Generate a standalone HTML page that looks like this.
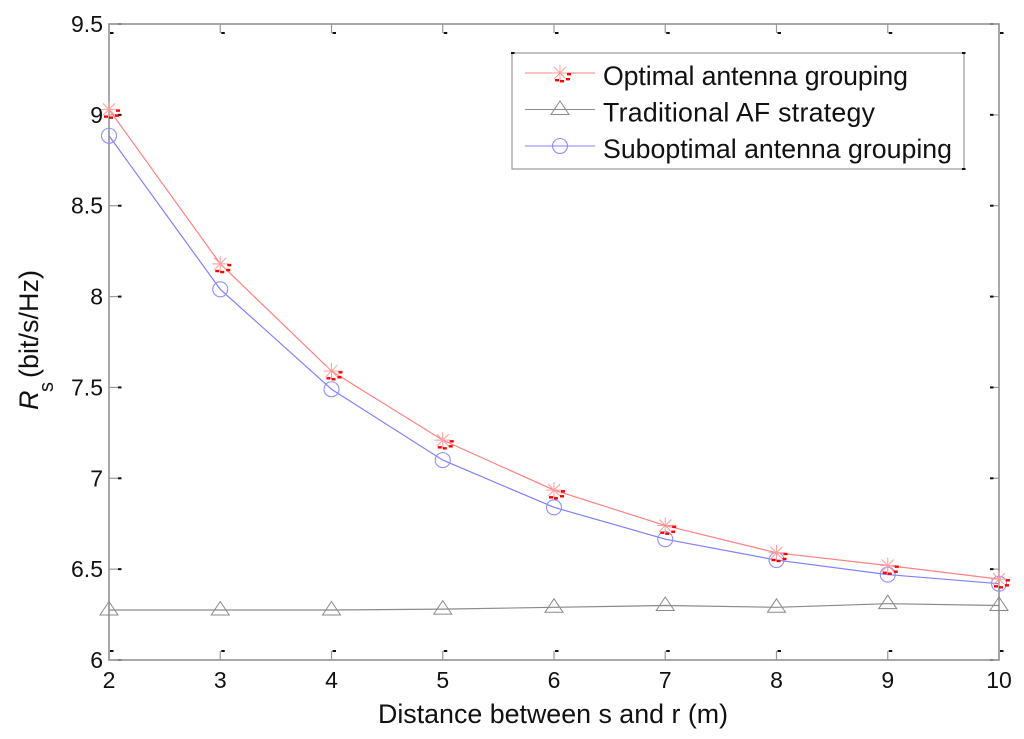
<!DOCTYPE html>
<html lang="en">
<head>
<meta charset="utf-8">
<title>Rs vs distance chart</title>
<style>
html,body{margin:0;padding:0;background:#fff;width:1024px;height:739px;overflow:hidden}
svg{display:block}
text{font-family:"Liberation Sans",sans-serif;fill:#111}
</style>
</head>
<body>
<svg id="chart" width="1024" height="739" viewBox="0 0 1024 739" xmlns="http://www.w3.org/2000/svg">
  <rect x="0" y="0" width="1024" height="739" fill="#fff"/>
  <g id="ticks"></g>
  <rect x="109" y="24" width="890" height="636" fill="none" stroke="#999" stroke-width="1.7"/>
  <g id="tick-labels"></g>
  <g id="series"></g>
  <text x="378" y="723" font-size="26.8">Distance between s and r (m)</text>
  <g transform="translate(38,410) rotate(-90)">
    <text x="0" y="0" font-size="27" font-style="italic">R</text>
    <text x="18" y="15" font-size="20">s</text>
    <text x="32" y="0" font-size="27">(bit/s/Hz)</text>
  </g>
  <g id="legend">
    <rect x="512" y="53" width="452" height="116" fill="#fff" stroke="#999" stroke-width="1.2"/>
  </g>
</svg>
<script>
const categories = [2, 3, 4, 5, 6, 7, 8, 9, 10];
const optimalValues = [9.03, 8.18, 7.59, 7.21, 6.935, 6.74, 6.59, 6.52, 6.445];
const traditionalValues = [6.275, 6.275, 6.275, 6.28, 6.29, 6.30, 6.29, 6.31, 6.30];
const suboptimalValues = [8.885, 8.04, 7.49, 7.10, 6.84, 6.665, 6.55, 6.47, 6.42];
const xTickValues = [2, 3, 4, 5, 6, 7, 8, 9, 10];
const yTickValues = [6, 6.5, 7, 7.5, 8, 8.5, 9, 9.5];
const yTickLabels = ['6', '6.5', '7', '7.5', '8', '8.5', '9', '9.5'];
const legendLabels = ['Optimal antenna grouping', 'Traditional AF strategy', 'Suboptimal antenna grouping'];

const NS = 'http://www.w3.org/2000/svg';
const PLOT = {left: 109, right: 999, top: 24, bottom: 660, xMin: 2, xMax: 10, yMin: 6, yMax: 9.5};
function xScale(v) { return PLOT.left + (v - PLOT.xMin) / (PLOT.xMax - PLOT.xMin) * (PLOT.right - PLOT.left); }
function yScale(v) { return PLOT.bottom - (v - PLOT.yMin) / (PLOT.yMax - PLOT.yMin) * (PLOT.bottom - PLOT.top); }
function make(tag, attrs, parent) {
  const el = document.createElementNS(NS, tag);
  for (const k in attrs) el.setAttribute(k, attrs[k]);
  parent.appendChild(el);
  return el;
}
function seg(parent, x1, y1, x2, y2, color, w) {
  return make('line', {x1: x1, y1: y1, x2: x2, y2: y2, stroke: color, 'stroke-width': w}, parent);
}
function dash(parent, x, y, w, h, color) {
  return make('rect', {x: x, y: y, width: w, height: h, fill: color}, parent);
}

const ticksG = document.getElementById('ticks');
const labelsG = document.getElementById('tick-labels');
const seriesG = document.getElementById('series');
const legendG = document.getElementById('legend');

xTickValues.forEach(function (v) {
  const x = xScale(v);
  const t = make('g', {}, ticksG);
  
  
  seg(t, x, PLOT.top, x, PLOT.top + 9, '#999', 1.2);
  seg(t, x, PLOT.bottom, x, PLOT.bottom - 9, '#999', 1.2);
  dash(t, x + 1, PLOT.top + 8, 3.5, 2, '#111');
  dash(t, x + 1, PLOT.bottom - 10, 3.5, 2, '#111');
  const lab = make('text', {x: x, y: 688, 'font-size': 23, 'text-anchor': 'middle'}, labelsG);
  
  
  lab.textContent = String(v);
});

yTickValues.forEach(function (v, i) {
  const y = yScale(v);
  const t = make('g', {}, ticksG);
  
  
  seg(t, PLOT.left, y, PLOT.left + 9, y, '#999', 1.2);
  seg(t, PLOT.right, y, PLOT.right - 9, y, '#999', 1.2);
  dash(t, PLOT.left + 9, y - 1, 3.5, 2, '#111');
  dash(t, PLOT.right - 9, y - 1, 3.5, 2, '#111');
  const lab = make('text', {x: 103, y: y + 8, 'font-size': 23, 'text-anchor': 'end'}, labelsG);
  
  
  lab.textContent = yTickLabels[i];
});

function starMarker(parent, cx, cy) {
  const r = 8;
  const c = '#ff9c9c';
  seg(parent, cx - r, cy, cx + r, cy, c, 1);
  seg(parent, cx, cy - r, cx, cy + r, c, 1);
  seg(parent, cx - 6, cy - 6, cx + 6, cy + 6, c, 1);
  seg(parent, cx - 6, cy + 6, cx + 6, cy - 6, c, 1);
  dash(parent, cx + 7, cy, 4, 2.4, '#f00');
  dash(parent, cx - 5, cy + 6, 4, 2.4, '#f00');
  dash(parent, cx, cy + 7, 4, 2.4, '#f00');
  dash(parent, cx + 6, cy + 5, 4, 2.4, '#f00');
}
function triangleMarker(parent, cx, cy) {
  const pts = [[cx, cy - 8.5], [cx + 9, cy + 5], [cx - 9, cy + 5]].map(function (p) { return p.join(','); }).join(' ');
  make('polygon', {points: pts, fill: 'none', stroke: '#8a8a8a', 'stroke-width': 1}, parent);
}
function circleMarker(parent, cx, cy) {
  make('circle', {cx: cx, cy: cy, r: 7.5, fill: 'none', stroke: '#8f8fff', 'stroke-width': 1.1}, parent);
}
function drawSeries(name, values, color, marker) {
  const g = make('g', {}, seriesG);
  
  
  const pts = values.map(function (v, i) { return xScale(categories[i]) + ',' + yScale(v); }).join(' ');
  make('polyline', {points: pts, fill: 'none', stroke: color, 'stroke-width': 1.2}, g);
  values.forEach(function (v, i) {
    marker(g, xScale(categories[i]), yScale(v));
  });
}
drawSeries('series-traditional-af', traditionalValues, '#8a8a8a', triangleMarker);
drawSeries('series-suboptimal-grouping', suboptimalValues, '#8080ff', circleMarker);
drawSeries('series-optimal-grouping', optimalValues, '#ff8080', starMarker);

const legendColors = ['#ff8080', '#8a8a8a', '#8080ff'];
const legendMarkers = [starMarker, triangleMarker, circleMarker];
const legendTextWidths = [305, 272, 349];
legendLabels.forEach(function (label, i) {
  const y = 73 + i * 36.5;
  const e = make('g', {}, legendG);
  
  
  seg(e, 525, y, 595, y, legendColors[i], 1.1);
  legendMarkers[i](e, 560, y);
  const t = make('text', {x: 603, y: y + 12, 'font-size': 26.7, textLength: legendTextWidths[i], lengthAdjust: 'spacing'}, e);
  t.textContent = label;
});
[[511, 53], [962, 53], [962, 169]].forEach(function (p) {
  const c = dash(legendG, p[0], p[1] - 1, 3.5, 2, '#111');
  
  
});
</script>
</body>
</html>
